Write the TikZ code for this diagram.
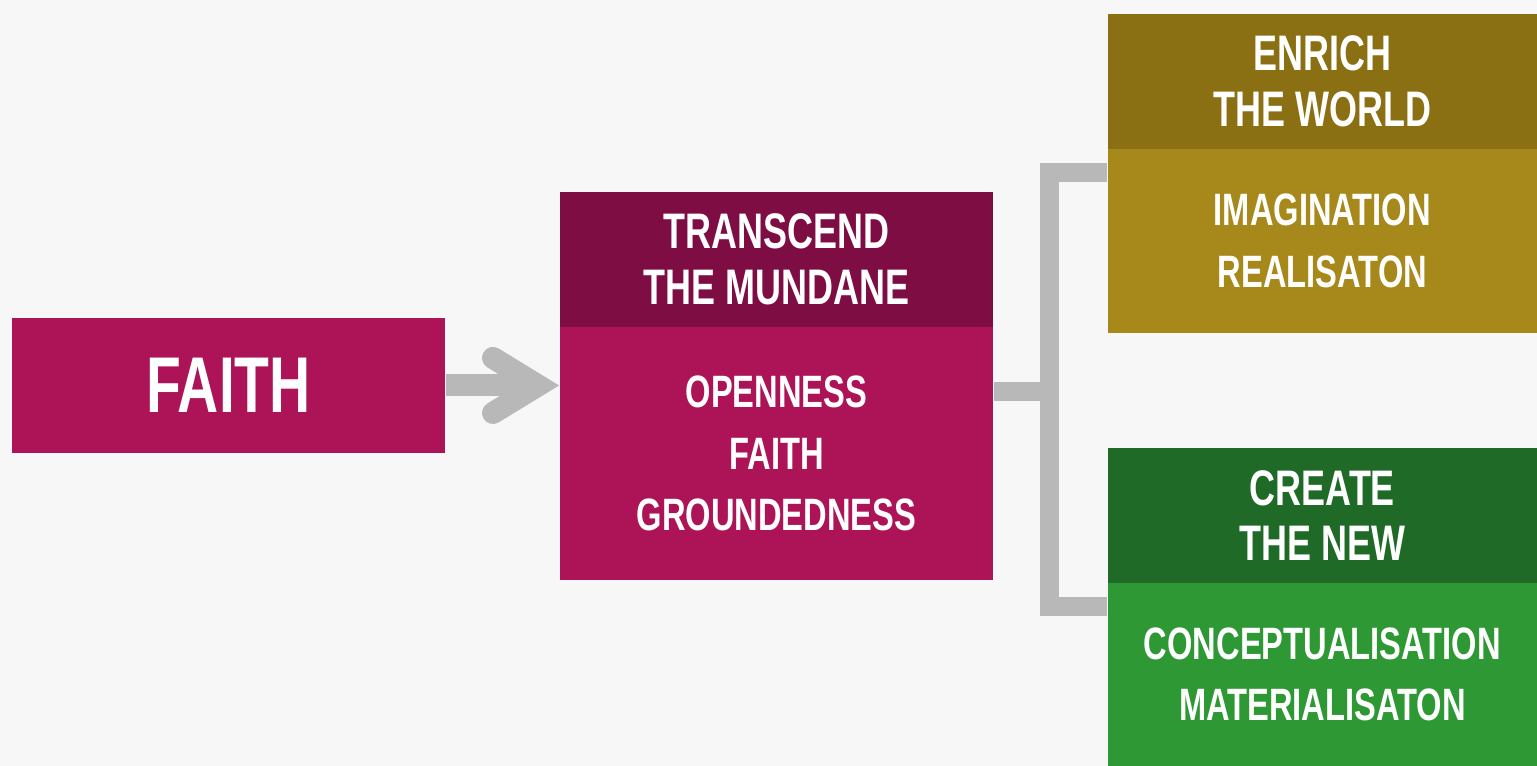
\documentclass[tikz,border=0pt]{standalone}
\usepackage{fontspec}
\newfontfamily\cond{Liberation Sans}[FakeStretch=0.72]
\usetikzlibrary{arrows.meta}
\definecolor{bgc}{HTML}{F7F7F7}
\definecolor{faithc}{HTML}{AD1457}
\definecolor{transc}{HTML}{7E0D44}
\definecolor{enrichc}{HTML}{8A7012}
\definecolor{imagc}{HTML}{A6891A}
\definecolor{createc}{HTML}{1F6A26}
\definecolor{conc}{HTML}{2E9834}
\definecolor{linkc}{HTML}{B8B8B8}

\begin{document}
\begin{tikzpicture}[x=0.01cm,y=-0.01cm,every node/.style={inner sep=0pt,text=white,align=center},box/.style={rectangle,minimum width=4.33cm,minimum height=1.35cm},head/.style={box,font=\cond\bfseries\fontsize{14.2}{15.8}\selectfont},body/.style={box,font=\cond\bfseries\fontsize{12.9}{17.6}\selectfont},link/.style={linkc,line width=1.9mm},flow/.style={linkc,line width=2.2mm,-{Straight Barb[length=4.5mm,width=5.5mm,line cap=round]}}]
\fill[bgc] (0,0) rectangle (1537,766);
\node[box,fill=faithc,font=\cond\bfseries\fontsize{22.5}{25}\selectfont] (faith) at (228.5,385.5) {FAITH};
\node[head,fill=transc] (midhead) at (776.5,259.5) {TRANSCEND\\THE MUNDANE};
\node[body,fill=faithc,minimum height=2.53cm] (midbody) at (776.5,453.5) {OPENNESS\\FAITH\\GROUNDEDNESS};
\node[head,fill=enrichc,minimum width=4.29cm] (enrichhead) at (1322.5,81.5) {ENRICH\\THE WORLD};
\node[body,fill=imagc,minimum width=4.29cm,minimum height=1.84cm] (enrichbody) at (1322.5,241) {IMAGINATION\\REALISATON};
\node[head,fill=createc,minimum width=4.29cm] (createhead) at (1322.5,515.5) {CREATE\\THE NEW};
\node[body,fill=conc,minimum width=4.29cm,minimum height=1.83cm] (createbody) at (1322.5,674.5) {CONCEPTUALISATION\\MATERIALISATON};
\coordinate (fork) at (1050,392);
\draw[flow] (faith) -- (midbody.west |- faith);
\draw[link] (midbody.east |- fork) -- (fork);
\draw[link] ([yshift=-2.4mm]enrichbody.north west) -| (fork) |- ([yshift=-2.4mm]createbody.north west);
\end{tikzpicture}
\end{document}
